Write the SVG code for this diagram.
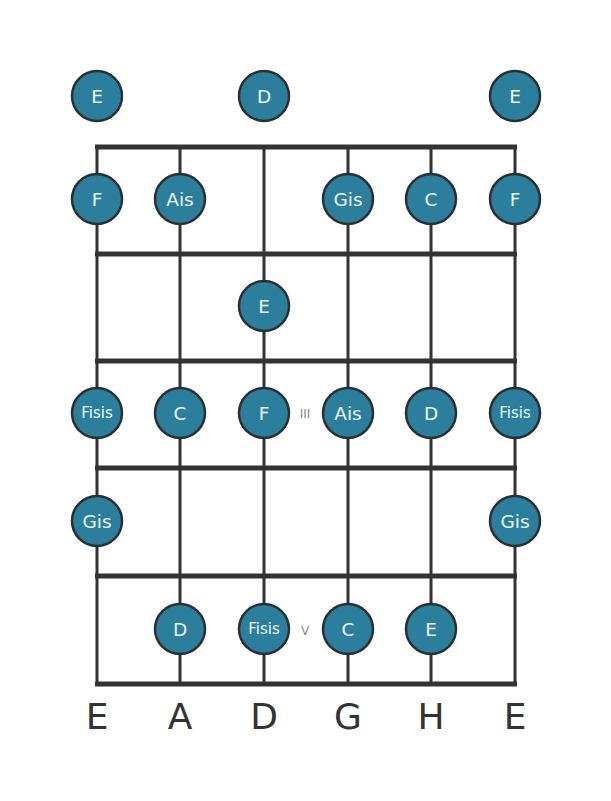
<svg xmlns="http://www.w3.org/2000/svg" width="611" height="801" viewBox="0 0 611 801">
<style>
.fret{stroke:#333;stroke-width:5;fill:none}
.str{stroke:#333;stroke-width:3;fill:none}
.dot circle{fill:#2b7f9d;stroke:#2a2f33;stroke-width:2.5}
.dot text{fill:#eaf6fa;font-family:"DejaVu Sans",sans-serif;font-size:18.5px;text-anchor:middle;dominant-baseline:central}
.dot text.s{font-size:15px}
.pos{fill:#888;font-family:"DejaVu Sans",sans-serif;font-size:12px;text-anchor:middle;dominant-baseline:central}
.lab{fill:#333;font-family:"DejaVu Sans",sans-serif;font-size:36px;text-anchor:middle}
</style>
<rect width="611" height="801" fill="#fff"/>
<g id="grid">
<line class="str" x1="97" y1="147" x2="97" y2="684"/>
<line class="str" x1="180" y1="147" x2="180" y2="684"/>
<line class="str" x1="264" y1="147" x2="264" y2="684"/>
<line class="str" x1="348" y1="147" x2="348" y2="684"/>
<line class="str" x1="431" y1="147" x2="431" y2="684"/>
<line class="str" x1="515" y1="147" x2="515" y2="684"/>
<line class="fret" x1="95" y1="147" x2="517" y2="147"/>
<line class="fret" x1="95" y1="254" x2="517" y2="254"/>
<line class="fret" x1="95" y1="361" x2="517" y2="361"/>
<line class="fret" x1="95" y1="468" x2="517" y2="468"/>
<line class="fret" x1="95" y1="576" x2="517" y2="576"/>
<line class="fret" x1="95" y1="684" x2="517" y2="684"/>
</g>
<text class="pos" x="305" y="414">III</text>
<text class="pos" x="305" y="631">V</text>
<g id="n0" class="dot"><circle cx="97" cy="96" r="25"/><text x="97" y="96">E</text></g>
<g id="n1" class="dot"><circle cx="264" cy="96" r="25"/><text x="264" y="96">D</text></g>
<g id="n2" class="dot"><circle cx="515" cy="96" r="25"/><text x="515" y="96">E</text></g>
<g id="n3" class="dot"><circle cx="97" cy="199" r="25"/><text x="97" y="199">F</text></g>
<g id="n4" class="dot"><circle cx="180" cy="199" r="25"/><text x="180" y="199">Ais</text></g>
<g id="n5" class="dot"><circle cx="348" cy="199" r="25"/><text x="348" y="199">Gis</text></g>
<g id="n6" class="dot"><circle cx="431" cy="199" r="25"/><text x="431" y="199">C</text></g>
<g id="n7" class="dot"><circle cx="515" cy="199" r="25"/><text x="515" y="199">F</text></g>
<g id="n8" class="dot"><circle cx="264" cy="306" r="25"/><text x="264" y="306">E</text></g>
<g id="n9" class="dot"><circle cx="97" cy="413" r="25"/><text class="s" x="97" y="413">Fisis</text></g>
<g id="n10" class="dot"><circle cx="180" cy="413" r="25"/><text x="180" y="413">C</text></g>
<g id="n11" class="dot"><circle cx="264" cy="413" r="25"/><text x="264" y="413">F</text></g>
<g id="n12" class="dot"><circle cx="348" cy="413" r="25"/><text x="348" y="413">Ais</text></g>
<g id="n13" class="dot"><circle cx="431" cy="413" r="25"/><text x="431" y="413">D</text></g>
<g id="n14" class="dot"><circle cx="515" cy="413" r="25"/><text class="s" x="515" y="413">Fisis</text></g>
<g id="n15" class="dot"><circle cx="97" cy="521" r="25"/><text x="97" y="521">Gis</text></g>
<g id="n16" class="dot"><circle cx="515" cy="521" r="25"/><text x="515" y="521">Gis</text></g>
<g id="n17" class="dot"><circle cx="180" cy="629" r="25"/><text x="180" y="629">D</text></g>
<g id="n18" class="dot"><circle cx="264" cy="629" r="25"/><text class="s" x="264" y="629">Fisis</text></g>
<g id="n19" class="dot"><circle cx="348" cy="629" r="25"/><text x="348" y="629">C</text></g>
<g id="n20" class="dot"><circle cx="431" cy="629" r="25"/><text x="431" y="629">E</text></g>
<g id="labels">
<text class="lab" x="97" y="729">E</text>
<text class="lab" x="180" y="729">A</text>
<text class="lab" x="264" y="729">D</text>
<text class="lab" x="348" y="729">G</text>
<text class="lab" x="431" y="729">H</text>
<text class="lab" x="515" y="729">E</text>
</g>
</svg>
